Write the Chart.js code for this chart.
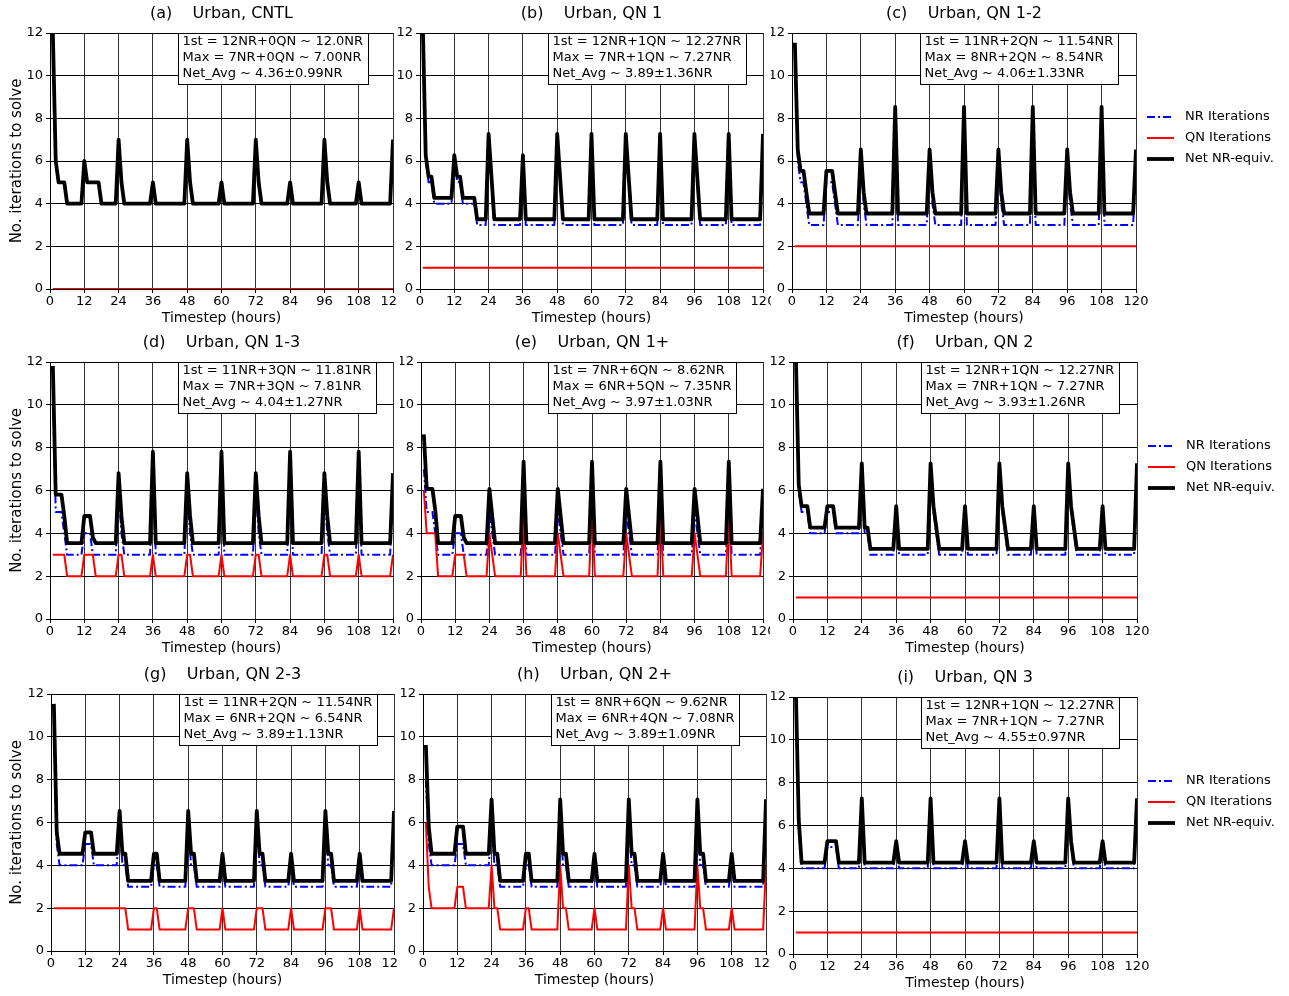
<!DOCTYPE html>
<html>
<head>
<meta charset="utf-8">
<script src="https://cdn.jsdelivr.net/npm/chart.js@4.4.1/dist/chart.umd.min.js"></script>
<style>
  body { margin: 0; background: #fff; }
  #fig { position: relative; width: 1289px; height: 996px; overflow: hidden; background: #fff; }
  #fig canvas { position: absolute; }
</style>
</head>
<body>
<div id="fig"></div>
<script>
// ---- data: [timestep (hours), iterations] at the line's vertices ----
const nrA  = [[1,12],[2,6],[3,5],[5,5],[6,4],[11,4],[12,6],[13,5],[17,5],[18,4],[23,4],[24,7],[25,5],[26,4],[35,4],[36,5],[37,4],[47,4],[48,7],[49,5],[50,4],[59,4],[60,5],[61,4],[71,4],[72,7],[73,5],[74,4],[83,4],[84,5],[85,4],[95,4],[96,7],[97,5],[98,4],[107,4],[108,5],[109,4],[119,4],[120,7]];
const qnA  = [[1,0],[120,0]];
const netA = [[1,12],[2,6],[3,5],[5,5],[6,4],[11,4],[12,6],[13,5],[17,5],[18,4],[23,4],[24,7],[25,5],[26,4],[35,4],[36,5],[37,4],[47,4],[48,7],[49,5],[50,4],[59,4],[60,5],[61,4],[71,4],[72,7],[73,5],[74,4],[83,4],[84,5],[85,4],[95,4],[96,7],[97,5],[98,4],[107,4],[108,5],[109,4],[119,4],[120,7]];

const nrB  = [[1,12],[2,6],[3,5],[4,5],[5,4],[11,4],[12,6],[13,5],[14,5],[15,4],[19,4],[20,3],[23,3],[24,7],[25,5],[26,3],[35,3],[36,6],[37,3],[47,3],[48,7],[49,5],[50,3],[59,3],[60,7],[61,3],[71,3],[72,7],[73,5],[74,3],[83,3],[84,7],[85,3],[95,3],[96,7],[97,5],[98,3],[107,3],[108,7],[109,3],[119,3],[120,7]];
const qnB  = [[1,1],[120,1]];
const netB = [[1,12.27],[2,6.27],[3,5.27],[4,5.27],[5,4.27],[11,4.27],[12,6.27],[13,5.27],[14,5.27],[15,4.27],[19,4.27],[20,3.27],[23,3.27],[24,7.27],[25,5.27],[26,3.27],[35,3.27],[36,6.27],[37,3.27],[47,3.27],[48,7.27],[49,5.27],[50,3.27],[59,3.27],[60,7.27],[61,3.27],[71,3.27],[72,7.27],[73,5.27],[74,3.27],[83,3.27],[84,7.27],[85,3.27],[95,3.27],[96,7.27],[97,5.27],[98,3.27],[107,3.27],[108,7.27],[109,3.27],[119,3.27],[120,7.27]];

const nrC  = [[1,11],[2,6],[3,5],[4,5],[6,3],[11,3],[12,5],[14,5],[16,3],[23,3],[24,6],[25,4],[26,3],[35,3],[36,8],[37,3],[47,3],[48,6],[49,4],[50,3],[59,3],[60,8],[61,3],[71,3],[72,6],[73,4],[74,3],[83,3],[84,8],[85,3],[95,3],[96,6],[97,4],[98,3],[107,3],[108,8],[109,3],[119,3],[120,6]];
const qnC  = [[1,2],[120,2]];
const netC = [[1,11.54],[2,6.54],[3,5.54],[4,5.54],[6,3.54],[11,3.54],[12,5.54],[14,5.54],[16,3.54],[23,3.54],[24,6.54],[25,4.54],[26,3.54],[35,3.54],[36,8.54],[37,3.54],[47,3.54],[48,6.54],[49,4.54],[50,3.54],[59,3.54],[60,8.54],[61,3.54],[71,3.54],[72,6.54],[73,4.54],[74,3.54],[83,3.54],[84,8.54],[85,3.54],[95,3.54],[96,6.54],[97,4.54],[98,3.54],[107,3.54],[108,8.54],[109,3.54],[119,3.54],[120,6.54]];

const nrD  = [[1,11],[2,5],[4,5],[5,4],[6,3],[11,3],[12,4],[14,4],[15,3],[23,3],[24,6],[25,4],[26,3],[35,3],[36,7],[37,3],[47,3],[48,6],[49,4],[50,3],[59,3],[60,7],[61,3],[71,3],[72,6],[73,4],[74,3],[83,3],[84,7],[85,3],[95,3],[96,6],[97,4],[98,3],[107,3],[108,7],[109,3],[119,3],[120,6]];
const qnD  = [[1,3],[5,3],[6,2],[11,2],[12,3],[15,3],[16,2],[23,2],[24,3],[25,3],[26,2],[35,2],[36,3],[37,2],[47,2],[48,3],[49,3],[50,2],[59,2],[60,3],[61,2],[71,2],[72,3],[73,3],[74,2],[83,2],[84,3],[85,2],[95,2],[96,3],[97,3],[98,2],[107,2],[108,3],[109,2],[119,2],[120,3]];
const netD = [[1,11.81],[2,5.81],[4,5.81],[5,4.81],[6,3.54],[11,3.54],[12,4.81],[14,4.81],[15,3.81],[16,3.54],[23,3.54],[24,6.81],[25,4.81],[26,3.54],[35,3.54],[36,7.81],[37,3.54],[47,3.54],[48,6.81],[49,4.81],[50,3.54],[59,3.54],[60,7.81],[61,3.54],[71,3.54],[72,6.81],[73,4.81],[74,3.54],[83,3.54],[84,7.81],[85,3.54],[95,3.54],[96,6.81],[97,4.81],[98,3.54],[107,3.54],[108,7.81],[109,3.54],[119,3.54],[120,6.81]];

const nrE  = [[1,7],[2,5],[4,5],[5,4],[6,3],[11,3],[12,4],[14,4],[15,3],[23,3],[24,5],[25,4],[26,3],[35,3],[36,6],[37,3],[47,3],[48,5],[49,4],[50,3],[59,3],[60,6],[61,3],[71,3],[72,5],[73,4],[74,3],[83,3],[84,6],[85,3],[95,3],[96,5],[97,4],[98,3],[107,3],[108,6],[109,3],[119,3],[120,5]];
const qnE  = [[1,6],[2,4],[5,4],[6,2],[11,2],[12,3],[15,3],[16,2],[23,2],[24,4],[25,3],[26,2],[35,2],[36,5],[37,2],[47,2],[48,4],[49,3],[50,2],[59,2],[60,5],[61,2],[71,2],[72,4],[73,3],[74,2],[83,2],[84,5],[85,2],[95,2],[96,4],[97,3],[98,2],[107,2],[108,5],[109,2],[119,2],[120,4]];
const netE = [[1,8.62],[2,6.08],[4,6.08],[5,5.08],[6,3.54],[11,3.54],[12,4.81],[14,4.81],[15,3.81],[16,3.54],[23,3.54],[24,6.08],[25,4.81],[26,3.54],[35,3.54],[36,7.35],[37,3.54],[47,3.54],[48,6.08],[49,4.81],[50,3.54],[59,3.54],[60,7.35],[61,3.54],[71,3.54],[72,6.08],[73,4.81],[74,3.54],[83,3.54],[84,7.35],[85,3.54],[95,3.54],[96,6.08],[97,4.81],[98,3.54],[107,3.54],[108,7.35],[109,3.54],[119,3.54],[120,6.08]];

const nrF  = [[1,12],[2,6],[3,5],[5,5],[6,4],[11,4],[12,5],[14,5],[15,4],[23,4],[24,7],[25,4],[26,4],[27,3],[35,3],[36,5],[37,3],[47,3],[48,7],[49,5],[51,3],[59,3],[60,5],[61,3],[71,3],[72,7],[73,5],[75,3],[83,3],[84,5],[85,3],[95,3],[96,7],[97,5],[99,3],[107,3],[108,5],[109,3],[119,3],[120,7]];
const qnF  = [[1,1],[120,1]];
const netF = [[1,12.27],[2,6.27],[3,5.27],[5,5.27],[6,4.27],[11,4.27],[12,5.27],[14,5.27],[15,4.27],[23,4.27],[24,7.27],[25,4.27],[26,4.27],[27,3.27],[35,3.27],[36,5.27],[37,3.27],[47,3.27],[48,7.27],[49,5.27],[51,3.27],[59,3.27],[60,5.27],[61,3.27],[71,3.27],[72,7.27],[73,5.27],[75,3.27],[83,3.27],[84,5.27],[85,3.27],[95,3.27],[96,7.27],[97,5.27],[99,3.27],[107,3.27],[108,5.27],[109,3.27],[119,3.27],[120,7.27]];

const nrG  = [[1,11],[2,5],[3,4],[11,4],[12,5],[14,5],[15,4],[23,4],[24,6],[25,4],[26,4],[27,3],[35,3],[36,4],[37,4],[38,3],[47,3],[48,6],[49,4],[50,4],[51,3],[59,3],[60,4],[61,3],[71,3],[72,6],[73,4],[74,4],[75,3],[83,3],[84,4],[85,3],[95,3],[96,6],[97,4],[98,4],[99,3],[107,3],[108,4],[109,3],[119,3],[120,6]];
const qnG  = [[1,2],[26,2],[27,1],[35,1],[36,2],[37,2],[38,1],[47,1],[48,2],[50,2],[51,1],[59,1],[60,2],[61,1],[71,1],[72,2],[74,2],[75,1],[83,1],[84,2],[85,1],[95,1],[96,2],[98,2],[99,1],[107,1],[108,2],[109,1],[119,1],[120,2]];
const netG = [[1,11.54],[2,5.54],[3,4.54],[11,4.54],[12,5.54],[14,5.54],[15,4.54],[23,4.54],[24,6.54],[25,4.54],[26,4.54],[27,3.27],[35,3.27],[36,4.54],[37,4.54],[38,3.27],[47,3.27],[48,6.54],[49,4.54],[50,4.54],[51,3.27],[59,3.27],[60,4.54],[61,3.27],[71,3.27],[72,6.54],[73,4.54],[74,4.54],[75,3.27],[83,3.27],[84,4.54],[85,3.27],[95,3.27],[96,6.54],[97,4.54],[98,4.54],[99,3.27],[107,3.27],[108,4.54],[109,3.27],[119,3.27],[120,6.54]];

const nrH  = [[1,8],[2,5],[3,4],[11,4],[12,5],[14,5],[15,4],[23,4],[24,6],[25,4],[26,4],[27,3],[35,3],[36,4],[37,4],[38,3],[47,3],[48,6],[49,4],[50,4],[51,3],[59,3],[60,4],[61,3],[71,3],[72,6],[73,4],[74,4],[75,3],[83,3],[84,4],[85,3],[95,3],[96,6],[97,4],[98,4],[99,3],[107,3],[108,4],[109,3],[119,3],[120,6]];
const qnH  = [[1,6],[2,3],[3,2],[11,2],[12,3],[14,3],[15,2],[23,2],[24,4],[25,2],[26,2],[27,1],[35,1],[36,2],[37,2],[38,1],[47,1],[48,4],[49,2],[50,2],[51,1],[59,1],[60,2],[61,1],[71,1],[72,4],[73,2],[74,2],[75,1],[83,1],[84,2],[85,1],[95,1],[96,4],[97,2],[98,2],[99,1],[107,1],[108,2],[109,1],[119,1],[120,4]];
const netH = [[1,9.62],[2,5.81],[3,4.54],[11,4.54],[12,5.81],[14,5.81],[15,4.54],[23,4.54],[24,7.08],[25,4.54],[26,4.54],[27,3.27],[35,3.27],[36,4.54],[37,4.54],[38,3.27],[47,3.27],[48,7.08],[49,4.54],[50,4.54],[51,3.27],[59,3.27],[60,4.54],[61,3.27],[71,3.27],[72,7.08],[73,4.54],[74,4.54],[75,3.27],[83,3.27],[84,4.54],[85,3.27],[95,3.27],[96,7.08],[97,4.54],[98,4.54],[99,3.27],[107,3.27],[108,4.54],[109,3.27],[119,3.27],[120,7.08]];

const nrI  = [[1,12],[2,6],[3,4],[11,4],[12,5],[15,5],[16,4],[23,4],[24,7],[25,4],[35,4],[36,5],[37,4],[47,4],[48,7],[49,4],[59,4],[60,5],[61,4],[71,4],[72,7],[73,4],[83,4],[84,5],[85,4],[95,4],[96,7],[97,5],[98,4],[107,4],[108,5],[109,4],[119,4],[120,7]];
const qnI  = [[1,1],[120,1]];
const netI = [[1,12.27],[2,6.27],[3,4.27],[11,4.27],[12,5.27],[15,5.27],[16,4.27],[23,4.27],[24,7.27],[25,4.27],[35,4.27],[36,5.27],[37,4.27],[47,4.27],[48,7.27],[49,4.27],[59,4.27],[60,5.27],[61,4.27],[71,4.27],[72,7.27],[73,4.27],[83,4.27],[84,5.27],[85,4.27],[95,4.27],[96,7.27],[97,5.27],[98,4.27],[107,4.27],[108,5.27],[109,4.27],[119,4.27],[120,7.27]];

const seriesNames = ["NR Iterations", "QN Iterations", "Net NR-equiv."];
const panelTitles = ["(a)    Urban, CNTL", "(b)    Urban, QN 1", "(c)    Urban, QN 1-2",
                     "(d)    Urban, QN 1-3", "(e)    Urban, QN 1+", "(f)    Urban, QN 2",
                     "(g)    Urban, QN 2-3", "(h)    Urban, QN 2+", "(i)    Urban, QN 3"];
const boxText = [
  ["1st = 12NR+0QN ~ 12.0NR", "Max = 7NR+0QN ~ 7.00NR", "Net_Avg ~ 4.36\u00b10.99NR"],
  ["1st = 12NR+1QN ~ 12.27NR", "Max = 7NR+1QN ~ 7.27NR", "Net_Avg ~ 3.89\u00b11.36NR"],
  ["1st = 11NR+2QN ~ 11.54NR", "Max = 8NR+2QN ~ 8.54NR", "Net_Avg ~ 4.06\u00b11.33NR"],
  ["1st = 11NR+3QN ~ 11.81NR", "Max = 7NR+3QN ~ 7.81NR", "Net_Avg ~ 4.04\u00b11.27NR"],
  ["1st = 7NR+6QN ~ 8.62NR", "Max = 6NR+5QN ~ 7.35NR", "Net_Avg ~ 3.97\u00b11.03NR"],
  ["1st = 12NR+1QN ~ 12.27NR", "Max = 7NR+1QN ~ 7.27NR", "Net_Avg ~ 3.93\u00b11.26NR"],
  ["1st = 11NR+2QN ~ 11.54NR", "Max = 6NR+2QN ~ 6.54NR", "Net_Avg ~ 3.89\u00b11.13NR"],
  ["1st = 8NR+6QN ~ 9.62NR", "Max = 6NR+4QN ~ 7.08NR", "Net_Avg ~ 3.89\u00b11.09NR"],
  ["1st = 12NR+1QN ~ 12.27NR", "Max = 7NR+1QN ~ 7.27NR", "Net_Avg ~ 4.55\u00b10.97NR"]
];
const nrSets  = [nrA, nrB, nrC, nrD, nrE, nrF, nrG, nrH, nrI];
const qnSets  = [qnA, qnB, qnC, qnD, qnE, qnF, qnG, qnH, qnI];
const netSets = [netA, netB, netC, netD, netE, netF, netG, netH, netI];

// where each panel sits: canvas box (cl, ct, cw) and plot area (L, T, R, B)
const layout = [
  {cl: 0,   ct: 0,   cw: 397, L: 50,  T: 33,  R: 393,  B: 289},
  {cl: 397, ct: 0,   cw: 374, L: 420, T: 33,  R: 763,  B: 289},
  {cl: 771, ct: 0,   cw: 518, L: 792, T: 33,  R: 1136, B: 289},
  {cl: 0,   ct: 330, cw: 400, L: 50,  T: 362, R: 393,  B: 619},
  {cl: 400, ct: 330, cw: 370, L: 421, T: 362, R: 763,  B: 619},
  {cl: 770, ct: 330, cw: 519, L: 793, T: 362, R: 1137, B: 619},
  {cl: 0,   ct: 662, cw: 398, L: 51,  T: 694, R: 394,  B: 951},
  {cl: 398, ct: 662, cw: 373, L: 423, T: 694, R: 766,  B: 951},
  {cl: 771, ct: 662, cw: 518, L: 793, T: 697, R: 1137, B: 954}
];

const FONT = "'DejaVu Sans', 'Liberation Sans', sans-serif";
Chart.defaults.font.family = FONT;
Chart.defaults.font.size = 13;
Chart.defaults.color = "#000";

const decor = {
  id: "decor",
  afterDraw(chart, args, opts) {
    const ctx = chart.ctx, a = chart.chartArea;
    ctx.save();
    ctx.fillStyle = "#000";
    ctx.font = "16px " + FONT;
    ctx.textAlign = "center";
    ctx.textBaseline = "middle";
    ctx.fillText(opts.title, (a.left + a.right) / 2, a.top - 19);

    ctx.font = "13px " + FONT;
    const w = Math.round(Math.max(...opts.box.map(s => ctx.measureText(s).width)) + 9);
    const x0 = Math.round(a.left + 0.372 * (a.right - a.left)) + 0.5;
    const y0 = Math.round(a.top) + 0.5;
    ctx.fillStyle = "#fff";
    ctx.fillRect(x0, y0, w, 51);
    ctx.strokeStyle = "#000";
    ctx.lineWidth = 1;
    ctx.strokeRect(x0, y0, w, 51);
    ctx.fillStyle = "#000";
    ctx.textAlign = "left";
    opts.box.forEach((s, i) => ctx.fillText(s, x0 + 4, y0 + 8.5 + 16 * i));

    if (opts.legend) {
      chart.data.datasets.forEach((ds, i) => {
        const y = a.top + 84 + 21 * i;
        ctx.beginPath();
        ctx.setLineDash(ds.borderDash || []);
        ctx.strokeStyle = ds.borderColor;
        ctx.lineWidth = ds.borderWidth;
        ctx.moveTo(a.right + 11, y);
        ctx.lineTo(a.right + 38, y);
        ctx.stroke();
        ctx.setLineDash([]);
        ctx.fillStyle = "#000";
        ctx.fillText(ds.label, a.right + 49, y);
      });
    }
    ctx.restore();
  }
};

const fig = document.getElementById("fig");

layout.forEach((p, k) => {
  const ch = p.B + 40 - p.ct;
  const cv = document.createElement("canvas");
  cv.width = p.cw;
  cv.height = ch;
  cv.style.left = p.cl + "px";
  cv.style.top = p.ct + "px";
  cv.style.width = p.cw + "px";
  cv.style.height = ch + "px";
  fig.appendChild(cv);

  const leftCol = k % 3 === 0;
  const rightCol = k % 3 === 2;

  new Chart(cv, {
    type: "line",
    data: {
      datasets: [
        {label: seriesNames[0], data: nrSets[k], borderColor: "#0000ff", borderWidth: 2,
         borderDash: [8, 3, 2, 3], order: 2},
        {label: seriesNames[1], data: qnSets[k], borderColor: "#ff0000", borderWidth: 2, order: 1},
        {label: seriesNames[2], data: netSets[k], borderColor: "#000000", borderWidth: 3.8, order: 0}
      ]
    },
    options: {
      responsive: false,
      animation: false,
      devicePixelRatio: 1,
      events: [],
      layout: {padding: {left: 0, top: p.T - p.ct, right: p.cw - (p.R - p.cl), bottom: 0}},
      elements: {
        line: {tension: 0, fill: false, borderJoinStyle: "round", borderCapStyle: "butt"},
        point: {radius: 0}
      },
      scales: {
        x: {
          type: "linear", min: 0, max: 120,
          ticks: {stepSize: 12, autoSkip: false, maxRotation: 0, padding: 1, font: {size: 13}},
          grid: {color: "#333", lineWidth: 1, tickLength: 4, tickColor: "#000"},
          border: {color: "#000", width: 1},
          title: {display: true, text: "Timestep (hours)", font: {size: 14}, padding: {top: 0, bottom: 2}},
          afterFit(s) { s.height = 40; s.paddingLeft = 0; s.paddingRight = 0; }
        },
        y: {
          min: 0, max: 12,
          ticks: {stepSize: 2, padding: 3, font: {size: 13}},
          grid: {color: "#000", lineWidth: 1, tickLength: 4, tickColor: "#000"},
          border: {color: "#000", width: 1},
          title: {display: leftCol, text: "No. iterations to solve", font: {size: 15}, padding: {top: 8, bottom: 0}},
          afterFit(s) { s.width = p.L - p.cl; s.paddingTop = 0; s.paddingBottom = 0; }
        }
      },
      plugins: {
        legend: {display: false},
        tooltip: {enabled: false},
        decor: {title: panelTitles[k], box: boxText[k], legend: rightCol}
      }
    },
    plugins: [decor]
  });
});
</script>
</body>
</html>
